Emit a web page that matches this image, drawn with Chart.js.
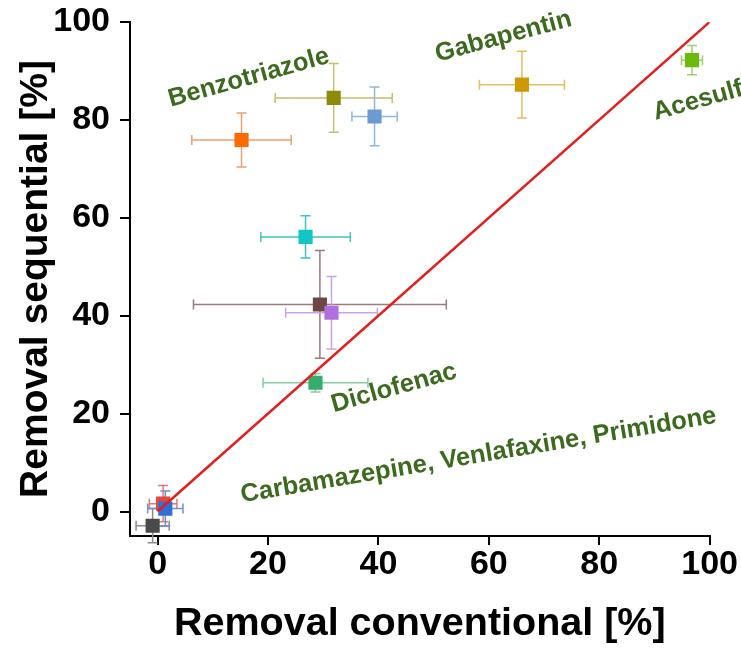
<!DOCTYPE html>
<html>
<head>
<meta charset="utf-8">
<script src="https://cdn.jsdelivr.net/npm/chart.js@4/dist/chart.umd.min.js"></script>
<style>
  html, body { margin: 0; padding: 0; background: #fff; }
  #wrap { width: 741px; height: 649px; position: relative; }
</style>
</head>
<body>
<div id="wrap"><canvas id="removalChart"></canvas></div>
<script>
// Removal conventional (x) vs removal sequential (y), mean +/- error
const xVals = [-0.9, 1.0, 1.4, 15.2, 31.9, 39.3, 66.0, 96.8, 26.8, 29.4, 31.5, 28.6];
const yVals = [-2.9, 1.6, 0.6, 75.9, 84.5, 80.7, 87.2, 92.2, 56.1, 42.3, 40.6, 26.3];
const xErr = [3.0, 2.5, 3.2, 9.0, 10.6, 4.1, 7.7, 1.9, 8.1, 22.9, 8.3, 9.5];
const yErr = [3.5, 3.7, 3.6, 5.5, 7.0, 6.0, 6.8, 3.0, 4.3, 11.0, 7.4, 1.9];
const markerColors = ['#4a4a4a', '#e8453c', '#2f6fd6', '#ff6a00', '#8c8c0a', '#6b9bd1',
                      '#cc9a06', '#6abb0a', '#12c6c6', '#6e4646', '#b26fe0', '#36ad6c'];
const barColors = ['#8c8c8c', '#e07a7a', '#6f93d0', '#eda070', '#c0c070', '#94b5dc',
                   '#e0c060', '#9fd070', '#40c4c4', '#9a7a7a', '#c9a3ea', '#86c9a4'];

// 1:1 line
const lineX = [0, 100];
const lineY = [0, 100];

const xTicks = [0, 20, 40, 60, 80, 100];
const yTicks = [0, 20, 40, 60, 80, 100];

// compound annotations (anchor = start of baseline, in data units)
const labelText = ['Benzotriazole', 'Gabapentin', 'Acesulfame', 'Diclofenac',
                   'Carbamazepine, Venlafaxine, Primidone'];
const labelX = [2.4, 50.7, 90.2, 31.9, 15.3];
const labelY = [82.7, 91.9, 80.0, 20.3, 1.9];
const labelAngle = [-15.5, -15, -15.5, -15.5, -9.5];

const fontFamily = "'Liberation Sans', Arial, Helvetica, sans-serif";
Chart.defaults.font.family = fontFamily;

// error bars drawn under the markers
const errorBars = {
  id: 'errorBars',
  beforeDatasetsDraw(chart) {
    const { ctx, scales: { x, y } } = chart;
    const cap = 5;
    ctx.save();
    ctx.lineWidth = 1.5;
    xVals.forEach((xv, i) => {
      const px = x.getPixelForValue(xv);
      const py = y.getPixelForValue(yVals[i]);
      const xl = x.getPixelForValue(xv - xErr[i]);
      const xr = x.getPixelForValue(xv + xErr[i]);
      const yt = y.getPixelForValue(yVals[i] + yErr[i]);
      const yb = y.getPixelForValue(yVals[i] - yErr[i]);
      ctx.strokeStyle = barColors[i];
      ctx.beginPath();
      ctx.moveTo(xl, py); ctx.lineTo(xr, py);
      ctx.moveTo(xl, py - cap); ctx.lineTo(xl, py + cap);
      ctx.moveTo(xr, py - cap); ctx.lineTo(xr, py + cap);
      ctx.moveTo(px, yt); ctx.lineTo(px, yb);
      ctx.moveTo(px - cap, yt); ctx.lineTo(px + cap, yt);
      ctx.moveTo(px - cap, yb); ctx.lineTo(px + cap, yb);
      ctx.stroke();
    });
    ctx.restore();
  }
};

const compoundLabels = {
  id: 'compoundLabels',
  afterDraw(chart) {
    const { ctx, scales: { x, y } } = chart;
    ctx.save();
    ctx.fillStyle = '#3c6a1e';
    ctx.font = "bold 25.5px " + fontFamily;
    ctx.textAlign = 'left';
    ctx.textBaseline = 'alphabetic';
    labelText.forEach((t, i) => {
      ctx.save();
      ctx.translate(x.getPixelForValue(labelX[i]), y.getPixelForValue(labelY[i]));
      ctx.rotate(labelAngle[i] * Math.PI / 180);
      ctx.fillText(t, 0, 0);
      ctx.restore();
    });
    ctx.restore();
  }
};

const ctx = document.getElementById('removalChart').getContext('2d');
new Chart(ctx, {
  type: 'scatter',
  data: {
    datasets: [
      {
        type: 'line',
        data: lineX.map((v, i) => ({ x: v, y: lineY[i] })),
        borderColor: '#e11f1f',
        borderWidth: 2.5,
        pointRadius: 0,
        fill: false
      },
      {
        data: xVals.map((v, i) => ({ x: v, y: yVals[i] })),
        pointStyle: 'rect',
        pointRadius: 10,
        pointHoverRadius: 10,
        backgroundColor: markerColors,
        borderColor: markerColors,
        borderWidth: 0
      }
    ]
  },
  options: {
    animation: false,
    responsive: true,
    maintainAspectRatio: false,
    layout: { padding: { top: 22, right: 31, bottom: 0, left: 0 } },
    plugins: {
      legend: { display: false },
      tooltip: { enabled: false }
    },
    scales: {
      x: {
        type: 'linear',
        min: -5,
        max: 100,
        afterBuildTicks: s => { s.ticks = xTicks.map(v => ({ value: v })); },
        afterFit: s => { s.height = 113; },
        grid: { drawOnChartArea: false, drawTicks: true, tickLength: 9, color: '#000', lineWidth: 2 },
        border: { display: true, color: '#000', width: 2 },
        ticks: {
          color: '#000',
          padding: 3,
          maxRotation: 0,
          font: { size: 34, weight: 'bold', lineHeight: 1 }
        },
        title: {
          display: true,
          text: 'Removal conventional [%]',
          color: '#000',
          font: { size: 39.5, weight: 'bold', lineHeight: 1.2 },
          padding: { top: 0, bottom: 1 }
        }
      },
      y: {
        type: 'linear',
        min: -5,
        max: 100,
        afterBuildTicks: s => { s.ticks = yTicks.map(v => ({ value: v })); },
        afterFit: s => {
          s.width = 130;
          // keep the tick padding from pushing the plot area down
          s.paddingTop = 0;
          s.paddingBottom = 0;
        },
        grid: { drawOnChartArea: false, drawTicks: true, tickLength: 10, color: '#000', lineWidth: 2 },
        border: { display: true, color: '#000', width: 2 },
        ticks: {
          color: '#000',
          padding: 10,
          font: { size: 34, weight: 'bold', lineHeight: 1 }
        },
        title: {
          display: true,
          text: 'Removal sequential [%]',
          color: '#000',
          font: { size: 39, weight: 'bold', lineHeight: 1.2 },
          padding: { top: 13, bottom: 0 }
        }
      }
    }
  },
  plugins: [errorBars, compoundLabels]
});
</script>
</body>
</html>
